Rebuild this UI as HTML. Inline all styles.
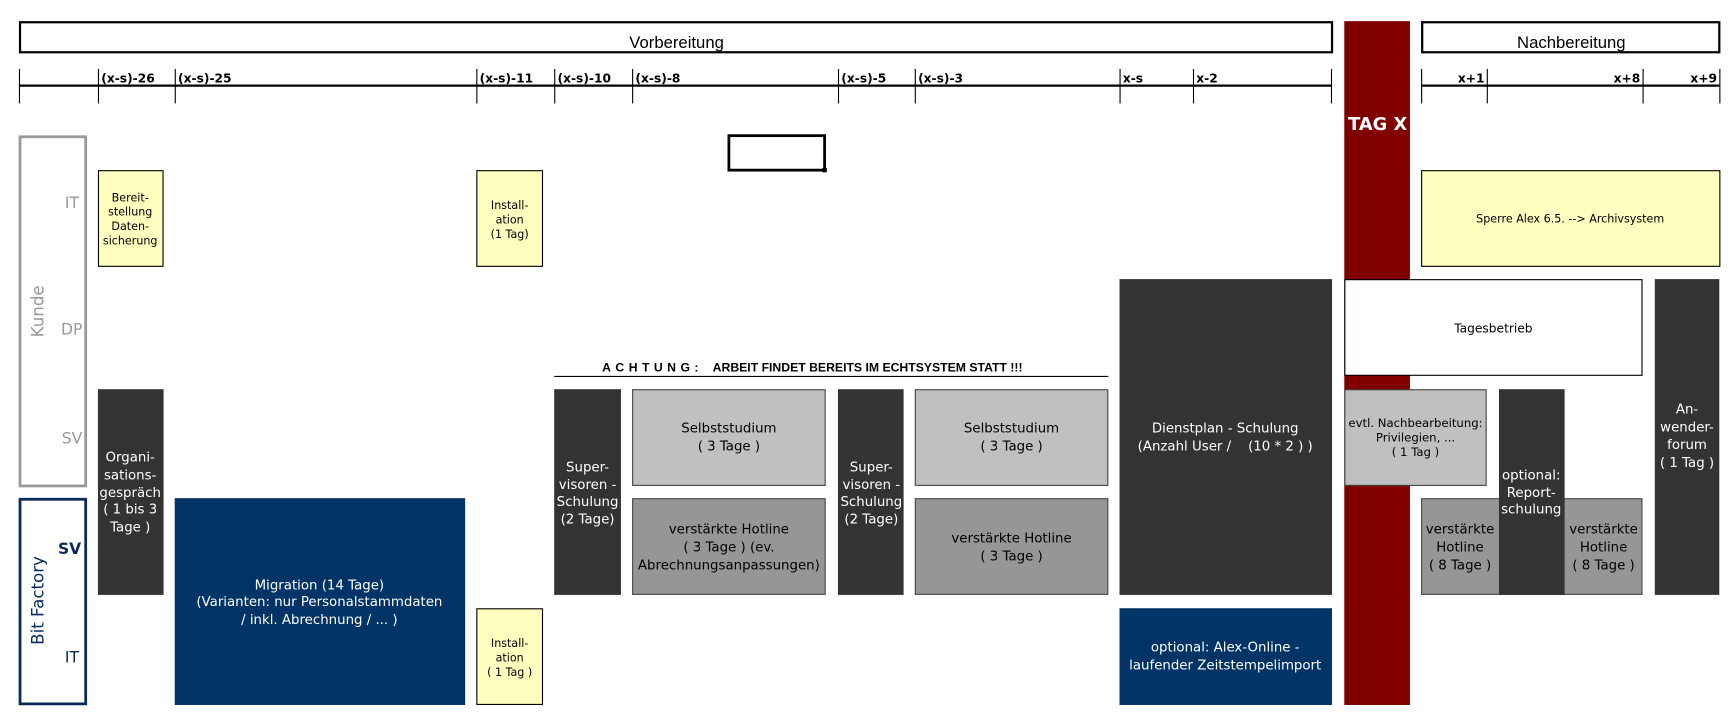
<!DOCTYPE html>
<html><head><meta charset="utf-8"><style>html,body{margin:0;padding:0;background:#fff;}svg{display:block}</style></head>
<body>
<svg width="1736" height="725" viewBox="0 0 1560 652" preserveAspectRatio="none" xmlns="http://www.w3.org/2000/svg" font-family="DejaVu Sans, Liberation Sans, sans-serif">
<rect width="1560" height="652" fill="#fff"/>
<rect x="18" y="20" width="1179" height="27" fill="#fff" stroke="#000" stroke-width="2"/>
<text x="608" y="43" font-size="15" text-anchor="middle" font-family="Liberation Sans, sans-serif">Vorbereitung</text>
<rect x="1278" y="20" width="267" height="27" fill="#fff" stroke="#000" stroke-width="2"/>
<text x="1412" y="43" font-size="15" text-anchor="middle" font-family="Liberation Sans, sans-serif">Nachbereitung</text>
<rect x="1208" y="19" width="59" height="615" fill="#800000"/>
<text x="1238" y="117" font-size="16" font-weight="bold" fill="#fff" text-anchor="middle">TAG X</text>
<g stroke="#000" stroke-width="1">
<line x1="17" y1="77" x2="1197" y2="77" stroke-width="2"/>
<line x1="1277" y1="77" x2="1545" y2="77" stroke-width="2"/>
<line x1="17.5" y1="62" x2="17.5" y2="93"/><line x1="88.5" y1="62" x2="88.5" y2="93"/><line x1="157.5" y1="62" x2="157.5" y2="93"/>
<line x1="428.5" y1="62" x2="428.5" y2="93"/><line x1="498.5" y1="62" x2="498.5" y2="93"/><line x1="568.5" y1="62" x2="568.5" y2="93"/>
<line x1="753.5" y1="62" x2="753.5" y2="93"/><line x1="822.5" y1="62" x2="822.5" y2="93"/><line x1="1006.5" y1="62" x2="1006.5" y2="93"/>
<line x1="1072.5" y1="62" x2="1072.5" y2="93"/><line x1="1196.5" y1="62" x2="1196.5" y2="93"/>
<line x1="1277.5" y1="62" x2="1277.5" y2="93"/><line x1="1336.5" y1="62" x2="1336.5" y2="93"/><line x1="1476.5" y1="62" x2="1476.5" y2="93"/><line x1="1545.5" y1="62" x2="1545.5" y2="93"/>
</g>
<g font-size="11" font-weight="bold">
<text x="91" y="74">(x-s)-26</text><text x="160" y="74">(x-s)-25</text><text x="431" y="74">(x-s)-11</text>
<text x="501" y="74">(x-s)-10</text><text x="571" y="74">(x-s)-8</text><text x="756" y="74">(x-s)-5</text>
<text x="825" y="74">(x-s)-3</text><text x="1009" y="74">x-s</text><text x="1075" y="74">x-2</text>
<text x="1334" y="74" text-anchor="end">x+1</text><text x="1474" y="74" text-anchor="end">x+8</text><text x="1543" y="74" text-anchor="end">x+9</text>
</g>
<rect x="655" y="122" width="86" height="31" fill="none" stroke="#000" stroke-width="2.5"/>
<rect x="739" y="151" width="4" height="4" fill="#000"/>
<rect x="18" y="123" width="59" height="314" fill="#fff" stroke="#999" stroke-width="2.5"/>
<g fill="#999" font-size="14" text-anchor="end"><text x="71" y="187">IT</text><text x="74" y="301">DP</text><text x="74" y="399">SV</text></g>
<text transform="translate(39,280) rotate(-90)" font-size="15" fill="#999" text-anchor="middle">Kunde</text>
<rect x="18" y="449" width="59" height="184" fill="#fff" stroke="#0a2a5a" stroke-width="2.5"/>
<g fill="#0a2a5a" font-size="14" text-anchor="end"><text x="73" y="498" font-weight="bold">SV</text><text x="71" y="596">IT</text></g>
<text transform="translate(39,540) rotate(-90)" font-size="15" fill="#0a2a5a" text-anchor="middle">Bit Factory</text>
<g fill="#ffffc0" stroke="#000" stroke-width="1">
<rect x="88.5" y="153.5" width="58" height="86"/><rect x="428.5" y="153.5" width="59" height="86"/>
<rect x="1277.5" y="153.5" width="268" height="86"/><rect x="428.5" y="547.5" width="59" height="86"/>
</g>
<g font-size="10" text-anchor="middle" fill="#000">
<text x="117" y="181">Bereit-</text><text x="117" y="194">stellung</text><text x="117" y="207">Daten-</text><text x="117" y="220">sicherung</text>
<text x="458" y="188">Install-</text><text x="458" y="201">ation</text><text x="458" y="214">(1 Tag)</text>
<text x="1411" y="200">Sperre Alex 6.5. --&gt; Archivsystem</text>
<text x="458" y="582">Install-</text><text x="458" y="595">ation</text><text x="458" y="608">( 1 Tag )</text>
</g>
<text x="730" y="334" font-size="11" font-weight="bold" text-anchor="middle" font-family="Liberation Sans, sans-serif" xml:space="preserve"><tspan letter-spacing="4">ACHTUNG:</tspan>   ARBEIT FINDET BEREITS IM ECHTSYSTEM STATT !!!</text>
<line x1="498" y1="338.5" x2="996" y2="338.5" stroke="#000" stroke-width="1"/>
<rect x="1208.5" y="251.5" width="267" height="86" fill="#fff" stroke="#000"/>
<text x="1342" y="299" font-size="11" text-anchor="middle">Tagesbetrieb</text>
<g fill="#c0c0c0" stroke="#444" stroke-width="1">
<rect x="568.5" y="350.5" width="173" height="86"/><rect x="822.5" y="350.5" width="173" height="86"/><rect x="1208.5" y="350.5" width="127" height="86"/>
</g>
<g fill="#969696" stroke="#444" stroke-width="1">
<rect x="568.5" y="448.5" width="173" height="86"/><rect x="822.5" y="448.5" width="173" height="86"/>
<rect x="1277.5" y="448.5" width="198" height="86"/>
</g>
<g fill="#333">
<rect x="88" y="350" width="59" height="185"/><rect x="498" y="350" width="60" height="185"/><rect x="753" y="350" width="59" height="185"/>
<rect x="1006" y="251" width="191" height="284"/><rect x="1487" y="251" width="58" height="284"/><rect x="1347" y="350" width="59" height="185"/>
</g>
<g fill="#003366"><rect x="157" y="448" width="261" height="186"/><rect x="1006" y="547" width="191" height="87"/></g>
<g font-size="12" fill="#fff" text-anchor="middle">
<text x="117" y="415">Organi-</text><text x="117" y="431">sations-</text><text x="117" y="447">gespräch</text><text x="117" y="462">( 1 bis 3</text><text x="117" y="478">Tage )</text>
<text x="528" y="424">Super-</text><text x="528" y="440">visoren -</text><text x="528" y="455">Schulung</text><text x="528" y="471">(2 Tage)</text>
<text x="783" y="424">Super-</text><text x="783" y="440">visoren -</text><text x="783" y="455">Schulung</text><text x="783" y="471">(2 Tage)</text>
<text x="1101" y="389">Dienstplan - Schulung</text><text x="1101" y="405" xml:space="preserve">(Anzahl User /    (10 * 2 ) )</text>
<text x="1516" y="372">An-</text><text x="1516" y="388">wender-</text><text x="1516" y="404">forum</text><text x="1516" y="420">( 1 Tag )</text>
<text x="1376" y="431">optional:</text><text x="1376" y="447">Report-</text><text x="1376" y="462">schulung</text>
<text x="287" y="530">Migration (14 Tage)</text><text x="287" y="545">(Varianten: nur Personalstammdaten</text><text x="287" y="561">/ inkl. Abrechnung / ... )</text>
<text x="1101" y="586">optional: Alex-Online -</text><text x="1101" y="602">laufender Zeitstempelimport</text>
</g>
<g font-size="12" fill="#000" text-anchor="middle">
<text x="655" y="389">Selbststudium</text><text x="655" y="405">( 3 Tage )</text>
<text x="909" y="389">Selbststudium</text><text x="909" y="405">( 3 Tage )</text>
<text x="655" y="480">verstärkte Hotline</text><text x="655" y="496">( 3 Tage ) (ev.</text><text x="655" y="512">Abrechnungsanpassungen)</text>
<text x="909" y="488">verstärkte Hotline</text><text x="909" y="504">( 3 Tage )</text>
<text x="1312" y="480">verstärkte</text><text x="1312" y="496">Hotline</text><text x="1312" y="512">( 8 Tage )</text>
<text x="1441" y="480">verstärkte</text><text x="1441" y="496">Hotline</text><text x="1441" y="512">( 8 Tage )</text>
<g font-size="10.5"><text x="1272" y="384">evtl. Nachbearbeitung:</text><text x="1272" y="397">Privilegien, ...</text><text x="1272" y="410">( 1 Tag )</text></g>
</g>
</svg>
</body></html>
